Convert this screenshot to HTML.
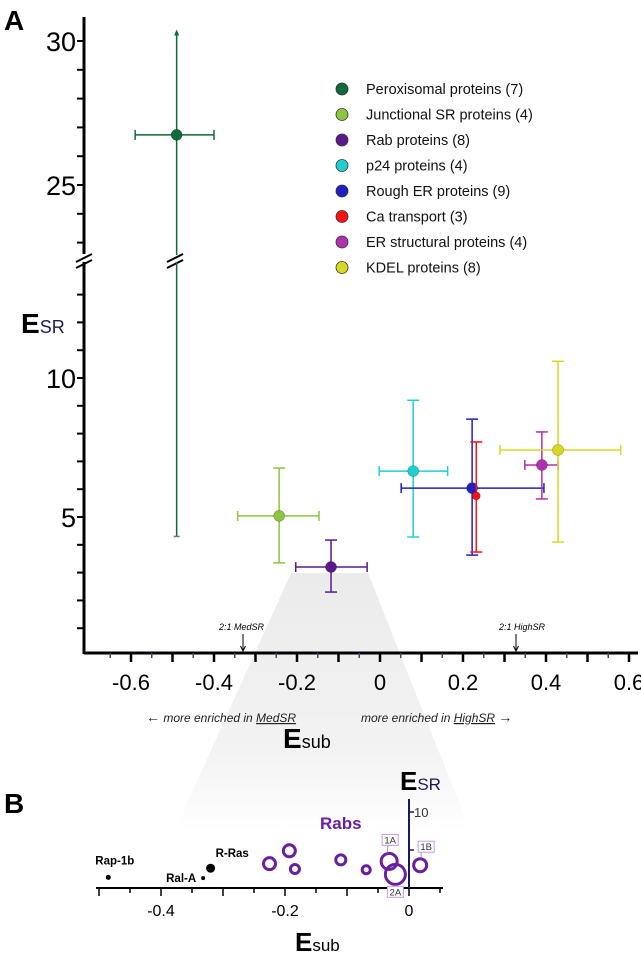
<!DOCTYPE html>
<html><head><meta charset="utf-8"><style>
html,body{margin:0;padding:0;background:#fff;}
svg{display:block;font-family:"Liberation Sans",Arial,sans-serif;}
</style></head><body>
<svg id="fig" width="641" height="954" viewBox="0 0 641 954" xmlns="http://www.w3.org/2000/svg">
<defs>
<linearGradient id="fade" x1="0" y1="0" x2="0" y2="1">
<stop offset="0" stop-color="#ebebeb"/><stop offset="0.7" stop-color="#f3f3f3"/><stop offset="1" stop-color="#fff"/>
</linearGradient>
</defs>
<polygon points="291,573 368,573 470,830 175,830" fill="url(#fade)"/>
<text x="4" y="30" font-size="28" font-weight="bold">A</text>
<text x="4" y="813" font-size="28" font-weight="bold">B</text>
<g id="axA"></g>
<g id="marksA"></g>
<g id="legend"></g>
<g id="axB"></g>
<g id="marksB"></g>
<text x="21" y="333" font-size="28" font-weight="bold">E<tspan font-size="18" font-weight="normal" fill="#1a1a5a">SR</tspan></text>
<text x="283" y="748" font-size="28" font-weight="bold">E<tspan font-size="18" font-weight="normal">sub</tspan></text>
<text x="146" y="722" font-size="12" font-style="italic" fill="#222"><tspan font-style="normal" font-weight="bold" font-size="14">←</tspan> more enriched in <tspan text-decoration="underline">MedSR</tspan></text>
<text x="361" y="722" font-size="12" font-style="italic" fill="#222">more enriched in <tspan text-decoration="underline">HighSR</tspan> <tspan font-style="normal" font-weight="bold" font-size="14">→</tspan></text>
<text x="219" y="630" font-size="9" font-style="italic">2:1 MedSR</text>
<text x="499" y="630" font-size="9" font-style="italic">2:1 HighSR</text>
<text x="400" y="790" font-size="26" font-weight="bold">E<tspan font-size="17" font-weight="normal" fill="#1a1a5a">SR</tspan></text>
<text x="295" y="951" font-size="26" font-weight="bold">E<tspan font-size="17" font-weight="normal">sub</tspan></text>
<text x="320" y="829" font-size="17" font-weight="bold" fill="#6a1fa0">Rabs</text>
</svg>
<script>
// ---------- Panel A data ----------
const groups = ["Peroxisomal proteins (7)","Junctional SR proteins (4)","Rab proteins (8)","p24 proteins (4)","Rough ER proteins (9)","Ca transport (3)","ER structural proteins (4)","KDEL proteins (8)"];
const colors = ["#0f6b35","#8cc63f","#5b1a8c","#20d0d0","#2020c0","#ff1010","#b030b0","#d8d820"];
const esub = [-0.49,-0.243,-0.118,0.08,0.222,0.232,0.39,0.429];
const esr = [26.74,5.04,3.2,6.65,6.04,5.76,6.87,7.41];
const esubLo = [-0.59,-0.343,-0.203,-0.002,0.051,0.227,0.349,0.289];
const esubHi = [-0.40,-0.147,-0.031,0.163,0.395,0.237,0.429,0.58];
const esrLo = [4.3,3.35,2.3,4.28,3.63,3.74,5.65,4.1];
const esrHi = [30.4,6.76,4.17,9.2,8.52,7.7,8.06,10.6];
const xTicksA = [-0.6,-0.4,-0.2,0,0.2,0.4,0.6];
const yTicksLow = [5,10];
const yTicksHigh = [25,30];
// ---------- Panel B data ----------
const bNames = ["Rap-1b","Ral-A","R-Ras"];
const bX = [-0.485,-0.332,-0.32];
const bY = [1.4,1.3,2.6];
const bR = [2.5,2,4.5];
const rabLabels = ["","","","","","1A","2A","1B"];
const rabX = [-0.225,-0.193,-0.184,-0.110,-0.069,-0.032,-0.022,0.018];
const rabY = [3.2,4.9,2.5,3.7,2.4,3.5,1.8,3.0];
const rabSize = [6,6,4.5,5,4,8,10,6.5];
const xTicksB = [-0.4,-0.2,0];
const yTicksB = [10];

const NS="http://www.w3.org/2000/svg";
function mk(parent,tag,attrs){const e=document.createElementNS(NS,tag);for(const k in attrs)e.setAttribute(k,attrs[k]);parent.appendChild(e);return e;}

// axis functions A
const xA = v => 380 + v*415;
const yA = v => v >= 20 ? 41 + (30-v)*28.8 : 656 - v*27.8;
const axA=document.getElementById('axA');
let l;
l=mk(axA,'line',{x1:84,y1:17,x2:84,y2:254,stroke:'#000','stroke-width':3});


l=mk(axA,'line',{x1:84,y1:262,x2:84,y2:654,stroke:'#000','stroke-width':3});


l=mk(axA,'path',{d:'M76,262 L92,254 M76,268 L92,260',stroke:'#000','stroke-width':2,fill:'none'});


l=mk(axA,'path',{d:'M167,262 L183,254 M167,268 L183,260',stroke:'#000','stroke-width':2,fill:'none'});


l=mk(axA,'line',{x1:84,y1:653,x2:638,y2:653,stroke:'#000','stroke-width':3});


for(let v=1;v<=13;v++){const y=yA(v);mk(axA,'line',{x1:77,y1:y,x2:84,y2:y,stroke:'#000','stroke-width':2});}
for(let v=23;v<=30;v++){const y=yA(v);mk(axA,'line',{x1:77,y1:y,x2:84,y2:y,stroke:'#000','stroke-width':2});}
yTicksLow.concat(yTicksHigh).forEach(v=>{const t=mk(axA,'text',{x:76,y:yA(v)+10,'font-size':27,'text-anchor':'end'});t.textContent=v;

});
for(let i=-13;i<=12;i++){const v=i*0.05;const x=xA(v);const major=(i%2===0);
mk(axA,'line',{x1:x,y1:653,x2:x,y2:major?662:658,stroke:major?'#000':'#446','stroke-width':major?2.5:1.5});}
xTicksA.forEach(v=>{const t=mk(axA,'text',{x:xA(v),y:690,'font-size':22,'text-anchor':'middle'});t.textContent=(v===0?'0':v.toFixed(1));

});
// arrows
[[243,'medsr-arrow'],[516,'highsr-arrow']].forEach(a=>{const g=mk(axA,'path',{d:`M${a[0]},634 L${a[0]},651 M${a[0]-2.5},646 L${a[0]},651 L${a[0]+2.5},646`,stroke:'#000','stroke-width':1,fill:'none'});

});

// marks A
const mA=document.getElementById('marksA');
groups.forEach((g,i)=>{
  const G=mk(mA,'g',{});
  
  
  const c=colors[i],cx=xA(esub[i]),cy=yA(esr[i]);
  const yt=yA(esrHi[i]),yb=yA(esrLo[i]),xl=xA(esubLo[i]),xr=xA(esubHi[i]);
  if(i===0){
    mk(G,'line',{x1:cx,y1:yt+4,x2:cx,y2:255,stroke:c,'stroke-width':1.5});
    mk(G,'line',{x1:cx,y1:262,x2:cx,y2:yb,stroke:c,'stroke-width':1.5});
    mk(G,'path',{d:`M${cx-2.5},${yt+6} L${cx},${yt} L${cx+2.5},${yt+6}Z`,fill:c});
    mk(G,'line',{x1:cx-3,y1:yb,x2:cx+3,y2:yb,stroke:'#777','stroke-width':1.5});
  } else {
    mk(G,'line',{x1:cx,y1:yt,x2:cx,y2:yb,stroke:c,'stroke-width':1.5});
    mk(G,'line',{x1:cx-6,y1:yt,x2:cx+6,y2:yt,stroke:c,'stroke-width':1.5});
    mk(G,'line',{x1:cx-6,y1:yb,x2:cx+6,y2:yb,stroke:c,'stroke-width':1.5});
  }
  if(i!==5){
    mk(G,'line',{x1:xl,y1:cy,x2:xr,y2:cy,stroke:c,'stroke-width':1.5});
    mk(G,'line',{x1:xl,y1:cy-5,x2:xl,y2:cy+5,stroke:c,'stroke-width':1.5});
    mk(G,'line',{x1:xr,y1:cy-5,x2:xr,y2:cy+5,stroke:c,'stroke-width':1.5});
  }
  const p=mk(G,'circle',{cx:cx,cy:cy,r:i===5?4:5.5,fill:c,stroke:'rgba(0,0,0,0.25)','stroke-width':0.8});
  
  
});

// legend
const lg=document.getElementById('legend');
groups.forEach((g,i)=>{
  const y=89+i*25.5;
  const E=mk(lg,'g',{});
  
  
  mk(E,'circle',{cx:342,cy:y,r:6,fill:colors[i],stroke:'#333','stroke-width':0.8});
  const t=mk(E,'text',{x:366,y:y+5,'font-size':14.5,fill:'#111'});t.textContent=g;
});

// panel B
const xB = v => 409 + v*620;
const yB = v => 888 - v*7.6;
const axB=document.getElementById('axB');
l=mk(axB,'line',{x1:96,y1:888,x2:443,y2:888,stroke:'#000','stroke-width':2});


l=mk(axB,'line',{x1:409,y1:799,x2:409,y2:888,stroke:'#1a1a5a','stroke-width':2});


for(let i=-10;i<=1;i++){const x=xB(i*0.05);mk(axB,'line',{x1:x,y1:888,x2:x,y2:i%2===0?896:893,stroke:'#000','stroke-width':1.5});}
[5,10].forEach(v=>mk(axB,'line',{x1:409,y1:yB(v),x2:414,y2:yB(v),stroke:'#1a1a5a','stroke-width':1.5}));
xTicksB.forEach(v=>{const t=mk(axB,'text',{x:xB(v),y:916,'font-size':16,'text-anchor':'middle'});t.textContent=(v===0?'0':v.toFixed(1));

});
yTicksB.forEach(v=>{const t=mk(axB,'text',{x:414,y:yB(v)+5,'font-size':13,fill:'#333'});t.textContent=v;

});

const mB=document.getElementById('marksB');
const bLabelPos=[[100,-13,'start'],[-7,4,'end'],[5,-11,'start']];
bNames.forEach((n,i)=>{
  const cx=xB(bX[i]),cy=yB(bY[i]);
  const c=mk(mB,'circle',{cx:cx,cy:cy,r:bR[i],fill:'#000'});
  
  
  const p=bLabelPos[i];
  const t=mk(mB,'text',{x:i===0?cx-13:cx+p[0],y:cy+p[1],'font-size':11.5,'font-weight':'bold','text-anchor':p[2]});t.textContent=n;
  
  
});
rabX.forEach((v,i)=>{
  const cx=xB(v),cy=yB(rabY[i]);
  const c=mk(mB,'circle',{cx:cx,cy:cy,r:rabSize[i],fill:'none',stroke:'#6a1fa0','stroke-width':3});
  
  
  if(rabLabels[i]){
    let bx,by;
    if(rabLabels[i]==='1A'){bx=cx-7;by=cy-27;mk(mB,'line',{x1:bx+6,y1:by+9,x2:cx-2,y2:cy-rabSize[i],stroke:'#888','stroke-width':0.8});}
    else if(rabLabels[i]==='2A'){bx=cx-8;by=cy+rabSize[i]+2;}
    else {bx=cx-2;by=cy-24;mk(mB,'line',{x1:bx+3,y1:by+9,x2:cx+1,y2:cy-rabSize[i],stroke:'#888','stroke-width':0.8});}
    const r=mk(mB,'rect',{x:bx,y:by,width:16,height:11,fill:'#fff',stroke:'#c79ae0','stroke-width':1});
    
    
    const t=mk(mB,'text',{x:bx+8,y:by+9,'font-size':9.5,'text-anchor':'middle',fill:'#333'});t.textContent=rabLabels[i];
  }
});
</script>
</body></html>
